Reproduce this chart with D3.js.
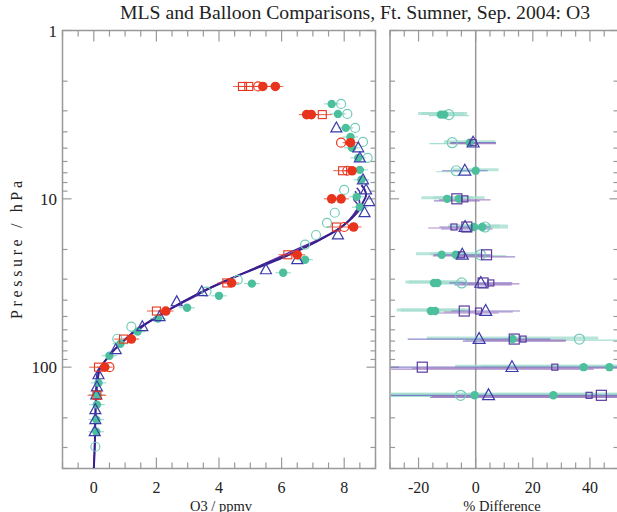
<!DOCTYPE html>
<html><head><meta charset="utf-8">
<script src="https://cdn.jsdelivr.net/npm/d3@7"></script>
<style>body{margin:0;background:#fff}svg{display:block}text{font-family:"Liberation Serif","DejaVu Serif",serif;fill:#222}</style>
</head><body><svg id="c" width="617" height="512"></svg>
<script>
// ---------- data ----------
const leftTicks = [0, 2, 4, 6, 8];
const rightTicks = [-20, 0, 20, 40];
const pTicks = [1, 10, 100];
// balloon profiles: pressure (hPa) and ozone (ppmv)
const balloonP1 = [400, 300, 200, 150, 120, 100, 90, 80, 70, 60, 50, 45, 40, 35, 30, 25, 21, 18, 15, 13, 11.5, 10.5, 9.5, 8.8, 8.3];
const balloonV1 = [0.0, 0.03, 0.05, 0.08, 0.12, 0.22, 0.4, 0.62, 0.95, 1.35, 2.05, 2.45, 2.95, 3.55, 4.35, 5.35, 6.35, 7.1, 7.85, 8.25, 8.5, 8.6, 8.7, 8.65, 8.55];
const balloonP2 = [400, 250, 150, 110, 95, 85, 75, 65, 55, 48, 42, 36, 31, 27, 23, 19, 16, 14, 12, 10.8, 9.8, 9.0];
const balloonV2 = [0.0, 0.04, 0.06, 0.1, 0.3, 0.5, 0.78, 1.15, 1.7, 2.2, 2.75, 3.4, 4.15, 4.95, 5.9, 6.85, 7.6, 8.05, 8.35, 8.5, 8.45, 8.35];
const balloonP3 = [60, 50, 40, 32, 26, 21, 17, 14.5, 12.5, 11, 10, 9.2, 8.6];
const balloonV3 = [1.45, 2.0, 3.0, 4.0, 5.1, 6.2, 7.3, 7.95, 8.3, 8.45, 8.3, 8.5, 8.4];
// red filled circles
const redFilledP = [2.15, 2.15, 3.16, 3.16, 4.64, 6.81, 10, 10, 14.7, 21.5, 31.6, 46.4, 68.1, 100];
const redFilledV = [5.8, 5.4, 6.8, 6.95, 8.2, 8.25, 7.6, 7.9, 8.3, 6.5, 4.4, 2.3, 1.2, 0.35];
// red open squares
const redSquareP = [2.15, 2.15, 3.16, 6.81, 14.7, 21.5, 31.6, 46.4, 68.1, 100, 147];
const redSquareV = [4.75, 4.95, 7.3, 7.95, 7.75, 6.2, 4.25, 2.0, 0.95, 0.15, 0.1];
// red open circles
const redOpenP = [2.15, 4.64, 6.81, 14.7, 100];
const redOpenV = [5.25, 7.9, 8.1, 8.0, 0.5];
// teal filled circles
const tealFilledP = [2.73, 3.13, 3.79, 4.29, 4.98, 5.71, 6.73, 7.71, 9.73, 11.2, 23, 27.5, 31.9, 37.7, 44.4, 51.5, 61.5, 72.6, 85.5, 124, 146, 167, 205, 242];
const tealFilledV = [7.6, 7.8, 8.05, 8.2, 8.25, 8.45, 8.5, 8.55, 8.4, 8.5, 6.75, 6.05, 5.05, 4.0, 2.98, 2.05, 1.4, 0.85, 0.5, 0.15, 0.1, 0.1, 0.08, 0.08];
// teal open circles
const tealOpenP = [2.73, 3.13, 3.79, 4.59, 5.71, 8.85, 12.1, 13.9, 16.4, 18.7, 30.3, 35.6, 57.5, 67.8, 297];
const tealOpenV = [7.9, 8.1, 8.35, 8.6, 8.75, 8.0, 7.7, 7.45, 7.1, 6.75, 4.6, 3.6, 1.2, 0.75, 0.05];
// blue triangles
const triP = [3.79, 4.98, 5.71, 7.71, 8.85, 10.4, 12.1, 16.4, 23, 26.4, 35.6, 40.9, 50.1, 57.5, 78.8, 111, 131, 146, 179, 205, 242];
const triV = [7.75, 8.45, 8.5, 8.6, 8.7, 8.8, 8.65, 7.8, 6.5, 5.5, 3.45, 2.65, 2.1, 1.55, 0.7, 0.15, 0.1, 0.08, 0.05, 0.05, 0.03];
// right panel: % difference, pressure, error half-width
const dTealFilledP = [3.16, 3.16, 4.64, 6.81, 10, 10, 14.7, 14.7, 21.5, 21.5, 31.6, 31.6, 46.4, 46.4, 68.1, 100, 100, 147, 147];
const dTealFilledV = [-12.2, -11, -2.1, 0, -10, -5.9, -0.6, 2.3, -11.9, -7, -14.6, -13.4, -15.7, -14.2, 12.9, 37.8, 46.8, -0.4, 27.2];
const dTealFilledE = [8, 8, 9, 8, 9, 9, 9, 9, 9, 9, 10, 10, 12, 12, 30, 45, 45, 60, 60];
const dTealOpenP = [3.16, 4.64, 6.81, 14.7, 21.5, 31.6, 68.1, 147];
const dTealOpenV = [-9.4, -8.2, -6.8, 3.3, 1.7, -4.9, 36.3, -5.3];
const dTealOpenE = [7, 8, 7, 8, 9, 10, 40, 60];
const dTriP = [4.64, 6.81, 14.7, 21.5, 31.6, 46.4, 68.1, 100, 147];
const dTriV = [-0.9, -3.8, -3.7, -4.7, 1.8, 3.5, 1.2, 12.7, 4.5];
const dTriE = [8, 8, 9, 10, 11, 12, 25, 60, 60];
const dSqBigP = [10, 14.7, 21.5, 31.6, 46.4, 68.1, 100, 147];
const dSqBigV = [-6.6, -3.1, 3.8, 2.6, -4, 13.5, -18.7, 44];
const dSqBigE = [8, 9, 10, 10, 12, 18, 60, 60];
const dSqSmallP = [4.64, 10, 14.7, 21.5, 31.6, 46.4, 68.1, 100, 147];
const dSqSmallV = [-0.9, -3.8, -7.6, -5, 5.3, 1, 16.6, 27.7, 39.7];
const dSqSmallE = [8, 9, 9, 10, 10, 12, 15, 50, 55];

// ---------- scales ----------
const svg = d3.select("#c");
const xL = d3.scaleLinear().domain([-1, 9]).range([62.5, 375.5]);
const xR = d3.scaleLinear().domain([-30, 50]).range([390, 618.5]);
const y = d3.scaleLog().domain([1, 400]).range([30.5, 468.5]);
const AX = "#999";
const RED = "#e8341c", TEAL = "#4cbf9d", TEAL2 = "#72ccb9", BLUE = "#3b3bab", PURP = "#5a3a9e", LINE = "#3a1e8c";

svg.append("text").attr("x", 355).attr("y", 19).attr("text-anchor", "middle")
  .attr("font-size", 19.5).attr("textLength", 470).attr("lengthAdjust", "spacingAndGlyphs")
  .text("MLS and Balloon Comparisons, Ft. Sumner, Sep. 2004: O3");

function frame(x, label, labelX, majors, minorStep) {
  const [x0, x1] = x.range();
  const y0 = y.range()[0], y1 = y.range()[1];
  const g = svg.append("g");
  const d = x.domain();
  const mins = d3.range(Math.ceil(d[0] / minorStep) * minorStep, d[1] + 1e-9, minorStep);
  mins.forEach(v => {
    const L = majors.includes(v) ? 11 : 6;
    g.append("line").attr("x1", x(v)).attr("x2", x(v)).attr("y1", y1).attr("y2", y1 - L).attr("stroke", AX).attr("stroke-width", 1.2);
    g.append("line").attr("x1", x(v)).attr("x2", x(v)).attr("y1", y0).attr("y2", y0 + L).attr("stroke", AX).attr("stroke-width", 1.2);
  });
  majors.forEach(v => {
    g.append("text").attr("x", x(v)).attr("y", 493).attr("text-anchor", "middle").attr("font-size", 16).text(v);
  });
  const yt = [];
  for (const dec of [1, 10, 100]) for (let k = 1; k <= 9; k++) if (dec * k <= 400) yt.push(dec * k);
  yt.forEach(p => {
    const L = pTicks.includes(p) ? 9 : 5;
    g.append("line").attr("x1", x0).attr("x2", x0 + L).attr("y1", y(p)).attr("y2", y(p)).attr("stroke", AX).attr("stroke-width", 1.2);
    g.append("line").attr("x1", x1).attr("x2", x1 - L).attr("y1", y(p)).attr("y2", y(p)).attr("stroke", AX).attr("stroke-width", 1.2);
  });
  g.append("rect").attr("x", x0).attr("y", y0).attr("width", x1 - x0).attr("height", y1 - y0)
    .attr("fill", "none").attr("stroke", AX).attr("stroke-width", 1.5);
  g.append("text").attr("x", labelX).attr("y", 510.5).attr("text-anchor", "middle").attr("font-size", 14.5).text(label);
}
frame(xL, "O3 / ppmv", 221, leftTicks, 0.5);
frame(xR, "% Difference", 502, rightTicks, 5);

pTicks.forEach(p => svg.append("text").attr("x", 57).attr("y", y(p) + 6).attr("text-anchor", "end").attr("font-size", 17).text(p));
svg.append("text").attr("transform", "translate(22,250) rotate(-90)").attr("text-anchor", "middle").attr("font-size", 16)
  .attr("textLength", 138).attr("lengthAdjust", "spacing").text("Pressure / hPa");

svg.append("clipPath").attr("id", "cl").append("rect").attr("x", 63).attr("y", 31).attr("width", 312).attr("height", 437);
svg.append("clipPath").attr("id", "cr").append("rect").attr("x", 391).attr("y", 31).attr("width", 230).attr("height", 437);
const gl = svg.append("g").attr("clip-path", "url(#cl)");
const gr = svg.append("g").attr("clip-path", "url(#cr)");

// ---- left panel ----
const lineGen = d3.line().x(d => xL(d[1])).y(d => y(d[0])).curve(d3.curveMonotoneY);
gl.append("path").datum(d3.zip(balloonP2, balloonV2)).attr("d", lineGen).attr("fill", "none").attr("stroke", BLUE).attr("stroke-width", 1.6);
gl.append("path").datum(d3.zip(balloonP3, balloonV3)).attr("d", lineGen).attr("fill", "none").attr("stroke", "#5530a0").attr("stroke-width", 1.5);
gl.append("path").datum(d3.zip(balloonP1, balloonV1)).attr("d", lineGen).attr("fill", "none").attr("stroke", LINE).attr("stroke-width", 2);

function circles(g, xs, P, V, r, fill, stroke, sw) {
  g.selectAll(null).data(d3.zip(P, V)).join("circle")
    .attr("cx", d => xs(d[1])).attr("cy", d => y(d[0])).attr("r", r)
    .attr("fill", fill).attr("stroke", stroke).attr("stroke-width", sw);
}
function squares(g, xs, P, V, s, color, sw) {
  g.selectAll(null).data(d3.zip(P, V)).join("rect")
    .attr("x", d => xs(d[1]) - s / 2).attr("y", d => y(d[0]) - s / 2).attr("width", s).attr("height", s)
    .attr("fill", "none").attr("stroke", color).attr("stroke-width", sw);
}
function tris(g, xs, P, V, s, color, sw) {
  const h = s * 0.9;
  g.selectAll(null).data(d3.zip(P, V)).join("path")
    .attr("d", d => { const cx = xs(d[1]), cy = y(d[0]); return `M${cx},${cy - h * 0.6}L${cx + s / 2},${cy + h * 0.4}L${cx - s / 2},${cy + h * 0.4}Z`; })
    .attr("fill", "none").attr("stroke", color).attr("stroke-width", sw);
}
function errbars(g, xs, P, V, E, color, w, dy) {
  g.selectAll(null).data(d3.zip(P, V, E)).join("line")
    .attr("x1", d => xs(d[1] - d[2])).attr("x2", d => xs(d[1] + d[2]))
    .attr("y1", d => y(d[0]) + dy).attr("y2", d => y(d[0]) + dy)
    .attr("stroke", color).attr("stroke-width", w).attr("stroke-opacity", 0.8);
}
errbars(gl, xL, tealFilledP, tealFilledV, tealFilledP.map(() => 0.25), TEAL2, 1, 0);
errbars(gl, xL, redSquareP, redSquareV, redSquareP.map(() => 0.3), RED, 1, 0);
errbars(gl, xL, redFilledP, redFilledV, redFilledP.map(() => 0.25), RED, 1, 0);
circles(gl, xL, tealOpenP, tealOpenV, 4.5, "none", TEAL2, 1.2);
circles(gl, xL, tealFilledP, tealFilledV, 4.2, TEAL, "none", 0);
tris(gl, xL, triP, triV, 11, BLUE, 1.2);
squares(gl, xL, redSquareP, redSquareV, 8, RED, 1.1);
circles(gl, xL, redOpenP, redOpenV, 4.5, "none", RED, 1.2);
circles(gl, xL, redFilledP, redFilledV, 4.8, RED, "none", 0);

// ---- right panel ----
gr.append("line").attr("x1", xR(0)).attr("x2", xR(0)).attr("y1", 30).attr("y2", 469).attr("stroke", "#999").attr("stroke-width", 1.5);
errbars(gr, xR, dTealFilledP, dTealFilledV, dTealFilledE, "#a6dfcf", 3, -1);
errbars(gr, xR, dTealOpenP, dTealOpenV, dTealOpenE, "#8fd4c4", 1.2, 1);
errbars(gr, xR, dTriP, dTriV, dTriE, "#6c6cc0", 1.2, 0);
errbars(gr, xR, dSqBigP, dSqBigV, dSqBigE, "#8a6cbf", 1.2, 2);
errbars(gr, xR, dSqSmallP, dSqSmallV, dSqSmallE, "#a070b8", 1.2, 1);
circles(gr, xR, dTealOpenP, dTealOpenV, 5, "none", TEAL2, 1.2);
circles(gr, xR, dTealFilledP, dTealFilledV, 4.2, TEAL, "none", 0);
tris(gr, xR, dTriP, dTriV, 12, BLUE, 1.2);
squares(gr, xR, dSqBigP, dSqBigV, 10, PURP, 1.2);
squares(gr, xR, dSqSmallP, dSqSmallV, 6, PURP, 1.2);
</script></body></html>
